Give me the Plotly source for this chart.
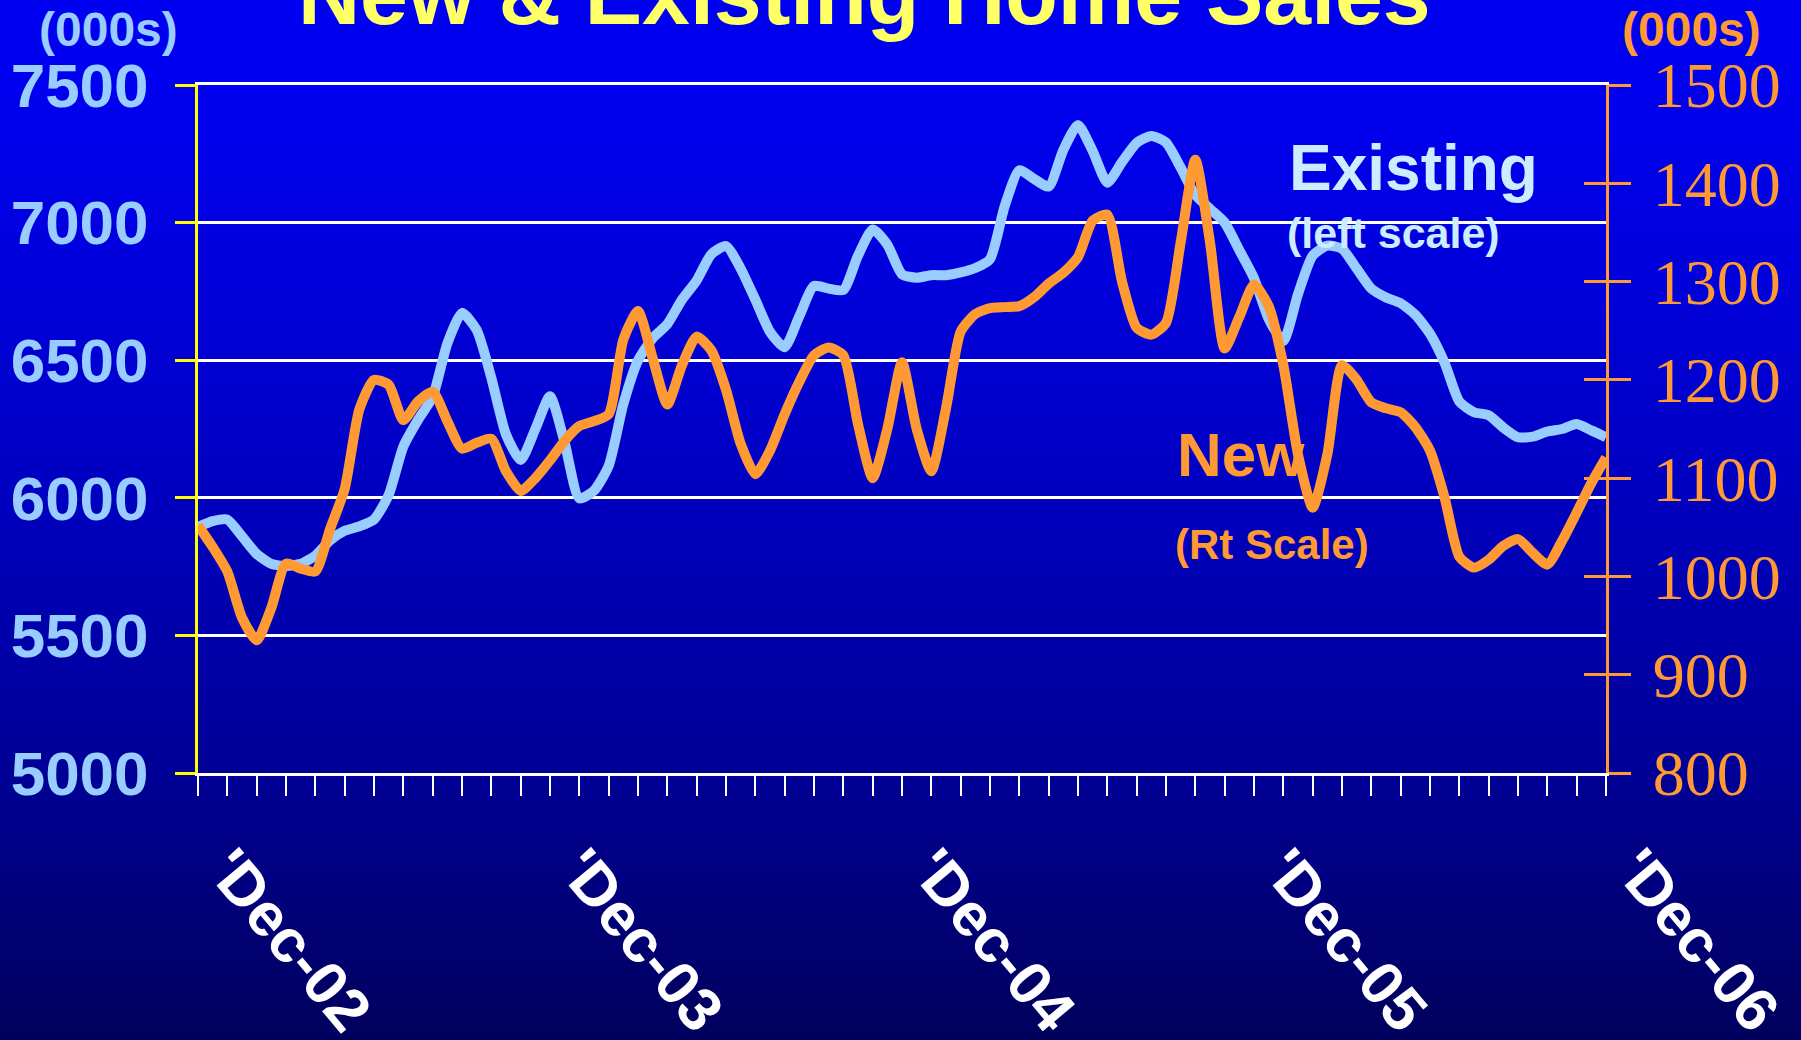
import base64
import struct
import zlib

import plotly.graph_objects as go

# ---------------- data ----------------
# x position: months after Dec-2002, sampled every half month
months = [i * 0.5 for i in range(97)]

existing = [
    5894, 5915, 5921, 5860, 5796, 5760, 5752, 5760, 5790, 5845,
    5880, 5896, 5921, 6010, 6186, 6283, 6367, 6561, 6672, 6610,
    6436, 6230, 6137, 6250, 6369, 6200, 5998, 6026, 6116, 6340,
    6499, 6580, 6631, 6720, 6790, 6885, 6915, 6833, 6720, 6603,
    6547, 6660, 6770, 6760, 6755, 6880, 6975, 6920, 6812, 6800,
    6809, 6809, 6819, 6835, 6867, 7060, 7190, 7159, 7131, 7264,
    7355, 7260, 7145, 7220, 7290, 7315, 7291, 7200, 7100, 7050,
    7000, 6900, 6798, 6650, 6570, 6740, 6880, 6916, 6905, 6833,
    6760, 6728, 6707, 6665, 6596, 6490, 6350, 6311, 6300, 6255,
    6220, 6222, 6241, 6250, 6268, 6245, 6220,
]

new = [
    1052, 1030, 1005, 958, 935, 968, 1013, 1008, 1005, 1048,
    1089, 1170, 1200, 1195, 1159, 1178, 1188, 1158, 1130, 1136,
    1140, 1107, 1087, 1100, 1118, 1138, 1153, 1158, 1165, 1241,
    1270, 1222, 1175, 1215, 1244, 1230, 1190, 1135, 1104, 1128,
    1165, 1198, 1225, 1233, 1225, 1155, 1100, 1150, 1218, 1150,
    1107, 1171, 1249, 1267, 1273, 1274, 1275, 1284, 1298, 1309,
    1325, 1362, 1368, 1300, 1253, 1246, 1258, 1340, 1424, 1340,
    1232, 1264, 1297, 1275, 1215, 1124, 1070, 1124, 1215, 1200,
    1177, 1171, 1167, 1152, 1128, 1080, 1020, 1009, 1017, 1031,
    1038, 1024, 1012, 1036, 1065, 1095, 1121,
]

x_tick_vals = [0, 12, 24, 36, 48]
x_tick_text = ["'Dec-02", "'Dec-03", "'Dec-04", "'Dec-05", "'Dec-06"]
left_ticks = [5000, 5500, 6000, 6500, 7000, 7500]
right_ticks = [800, 900, 1000, 1100, 1200, 1300, 1400, 1500]

# ---------------- page geometry ----------------
W, H = 1801, 1040
ML, MR, MT, MB = 198, 195, 85, 267
PW, PH = W - ML - MR, H - MT - MB


def px_x(px):
    return (px - ML) / PW


def px_y(py):
    return 1 - (py - MT) / PH


# ---------------- vertical gradient background (PNG) ----------------
stops = [(0, 240), (85, 240), (400, 205), (640, 170), (770, 150), (1040, 92)]


def blue_at(y):
    for (y0, b0), (y1, b1) in zip(stops, stops[1:]):
        if y0 <= y <= y1:
            t = (y - y0) / (y1 - y0) if y1 > y0 else 0
            return int(round(b0 + (b1 - b0) * t))
    return stops[-1][1]


def make_png(rows, w=2):
    raw = b"".join(b"\x00" + bytes(c) * w for c in rows)

    def chunk(t, d):
        return struct.pack(">I", len(d)) + t + d + struct.pack(">I", zlib.crc32(t + d) & 0xFFFFFFFF)

    ihdr = struct.pack(">IIBBBBB", w, len(rows), 8, 2, 0, 0, 0)
    return b"\x89PNG\r\n\x1a\n" + chunk(b"IHDR", ihdr) + chunk(b"IDAT", zlib.compress(raw)) + chunk(b"IEND", b"")


rows = [(0, 0, blue_at(y)) for y in range(H)]
bg_uri = "data:image/png;base64," + base64.b64encode(make_png(rows)).decode()

# ---------------- colours ----------------
C_EXIST = "#99CCFF"
C_EXIST_TXT = "#CCECFF"
C_NEW = "#FF9933"
C_TITLE = "#FFFF66"
SANS = "Liberation Sans"
SERIF = "Liberation Serif"

fig = go.Figure()

fig.add_trace(go.Scatter(
    x=months, y=existing, mode="lines", name="Existing",
    line=dict(color=C_EXIST, width=10, shape="spline", smoothing=0.6), yaxis="y",
))
fig.add_trace(go.Scatter(
    x=months, y=new, mode="lines", name="New",
    line=dict(color=C_NEW, width=10, shape="spline", smoothing=0.6), yaxis="y2",
))
# invisible helper trace so the inner half of the right-axis cross ticks is drawn
fig.add_trace(go.Scatter(
    x=[months[0]], y=[new[0]], mode="markers", marker=dict(opacity=0),
    yaxis="y3", hoverinfo="skip", showlegend=False,
))

fig.update_layout(
    width=W, height=H,
    margin=dict(l=ML, r=MR, t=MT, b=MB, autoexpand=False),
    paper_bgcolor="#000080",
    plot_bgcolor="rgba(0,0,0,0)",
    showlegend=False,
    images=[dict(
        source=bg_uri, xref="paper", yref="paper",
        x=px_x(0), y=px_y(0), sizex=W / PW, sizey=H / PH,
        xanchor="left", yanchor="top", sizing="stretch", layer="below",
    )],
    xaxis=dict(
        range=[0, 48], showgrid=False, zeroline=False, automargin=False,
        showline=True, linecolor="white", linewidth=3, mirror=True,
        ticks="outside", ticklen=20, tickwidth=2, tickcolor="white",
        tickvals=x_tick_vals, ticktext=x_tick_text, tickangle=50,
        ticklabelstandoff=13, ticklabelshift=30,
        tickfont=dict(family=SANS, size=61, color="white", weight="bold"),
        minor=dict(ticks="outside", tick0=0, dtick=1, ticklen=20, tickwidth=2, tickcolor="white"),
    ),
    yaxis=dict(
        range=[5000, 7500], tickvals=left_ticks, zeroline=False, automargin=False,
        showgrid=True, gridcolor="white", gridwidth=3,
        showline=True, linecolor="#FFFF00", linewidth=3,
        ticks="outside", ticklen=20, tickwidth=3, tickcolor="#FFFF00",
        ticklabelstandoff=14,
        tickfont=dict(family=SANS, size=62, color=C_EXIST, weight="bold"),
    ),
    yaxis2=dict(
        range=[800, 1500], tickvals=right_ticks, overlaying="y", side="right",
        showgrid=False, zeroline=False, automargin=False,
        showline=True, linecolor=C_NEW, linewidth=3,
        ticks="outside", ticklen=22, tickwidth=3, tickcolor=C_NEW,
        ticklabelstandoff=9,
        tickfont=dict(family=SERIF, size=64, color=C_NEW),
    ),
    yaxis3=dict(
        range=[800, 1500], tickvals=right_ticks, overlaying="y", side="right",
        showgrid=False, zeroline=False, showline=False, showticklabels=False,
        automargin=False,
        ticks="inside", ticklen=22, tickwidth=3, tickcolor=C_NEW,
    ),
)

annotations = [
    dict(text="New & Existing Home Sales", x=px_x(864), y=px_y(44), xanchor="center", yanchor="bottom",
         font=dict(family=SANS, size=86, color=C_TITLE, weight="bold")),
    dict(text="(000s)", x=px_x(109), y=px_y(30), xanchor="center", yanchor="middle",
         font=dict(family=SANS, size=48, color=C_EXIST, weight="bold")),
    dict(text="(000s)", x=px_x(1691), y=px_y(30), xanchor="center", yanchor="middle",
         font=dict(family=SANS, size=48, color=C_NEW, weight="bold")),
    dict(text="Existing", x=px_x(1287), y=px_y(168), xanchor="left", yanchor="middle",
         font=dict(family=SANS, size=64, color=C_EXIST_TXT, weight="bold")),
    dict(text="(left scale)", x=px_x(1285), y=px_y(233), xanchor="left", yanchor="middle",
         font=dict(family=SANS, size=43, color=C_EXIST_TXT, weight="bold")),
    dict(text="New", x=px_x(1175), y=px_y(455), xanchor="left", yanchor="middle",
         font=dict(family=SANS, size=62, color=C_NEW, weight="bold")),
    dict(text="(Rt Scale)", x=px_x(1173), y=px_y(544), xanchor="left", yanchor="middle",
         font=dict(family=SANS, size=42, color=C_NEW, weight="bold")),
]
for a in annotations:
    a.update(xref="paper", yref="paper", showarrow=False)
fig.update_layout(annotations=annotations)

fig.write_html("out.html")
